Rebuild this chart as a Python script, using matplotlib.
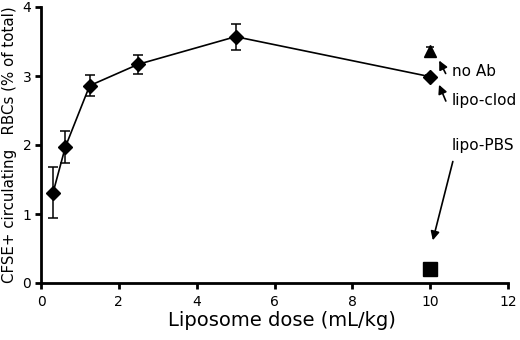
import matplotlib
matplotlib.use("Agg")
import matplotlib.pyplot as plt

# dose-response, lipo-clod
dose = [0.31, 0.625, 1.25, 2.5, 5, 10]
rbc = [1.31, 1.97, 2.86, 3.17, 3.57, 2.99]
err = [0.37, 0.23, 0.15, 0.14, 0.19, 0.03]

# controls at 10 mL/kg
noab_x, noab_y, noab_err = 10, 3.36, 0.06
pbs_x, pbs_y = 10, 0.2

plt.rcParams['font.family'] = ['DejaVu Sans']

fig = plt.figure(figsize=(5.2, 3.4), dpi=100)
ax = fig.add_axes([41 / 520, 1 - 283 / 340, 467 / 520, 276 / 340])

ax.errorbar(dose, rbc, yerr=err, color='black', lw=1.2, marker='D', ms=7.5,
            capsize=3.5, elinewidth=1.1, capthick=1.1)
ax.errorbar([noab_x], [noab_y], yerr=[noab_err], color='black', marker='^',
            ms=9, capsize=3, elinewidth=1.1, capthick=1.1, ls='none')
ax.plot([pbs_x], [pbs_y], 's', color='black', ms=10.5)

ax.set_xlim(0, 12)
ax.set_ylim(0, 4)
ax.set_xticks(range(0, 13, 2))
ax.set_yticks(range(0, 5))
for s in ['top', 'right']:
    ax.spines[s].set_visible(False)
for s in ['left', 'bottom']:
    ax.spines[s].set_linewidth(2)
ax.tick_params(direction='out', width=2, length=4, labelsize=10)
ax.tick_params(axis='x', pad=5)
ax.tick_params(axis='y', pad=3)

ax.set_xlabel('Liposome dose (mL/kg)', fontsize=14, labelpad=2)
ax.xaxis.set_label_coords(0.516, -0.1)
ax.xaxis.label.set_va('top')
ax.set_ylabel('CFSE+ circulating   RBCs (% of total)', fontsize=10.8)
ax.yaxis.set_label_coords(-0.051, 0.5)

arr = dict(arrowstyle='-|>', color='black', lw=1.2, mutation_scale=13)
ax.annotate('', xy=(10.2, 3.26), xytext=(10.43, 3.0), arrowprops=arr)
ax.text(10.56, 3.07, 'no Ab', fontsize=11, va='center')
ax.annotate('', xy=(10.2, 2.91), xytext=(10.43, 2.6), arrowprops=arr)
ax.text(10.56, 2.65, 'lipo-clod', fontsize=11, va='center')
ax.annotate('', xy=(10.05, 0.58), xytext=(10.6, 1.8), arrowprops=arr)
ax.text(10.56, 1.99, 'lipo-PBS', fontsize=11, va='center')

fig.savefig('out.png', dpi=100)
